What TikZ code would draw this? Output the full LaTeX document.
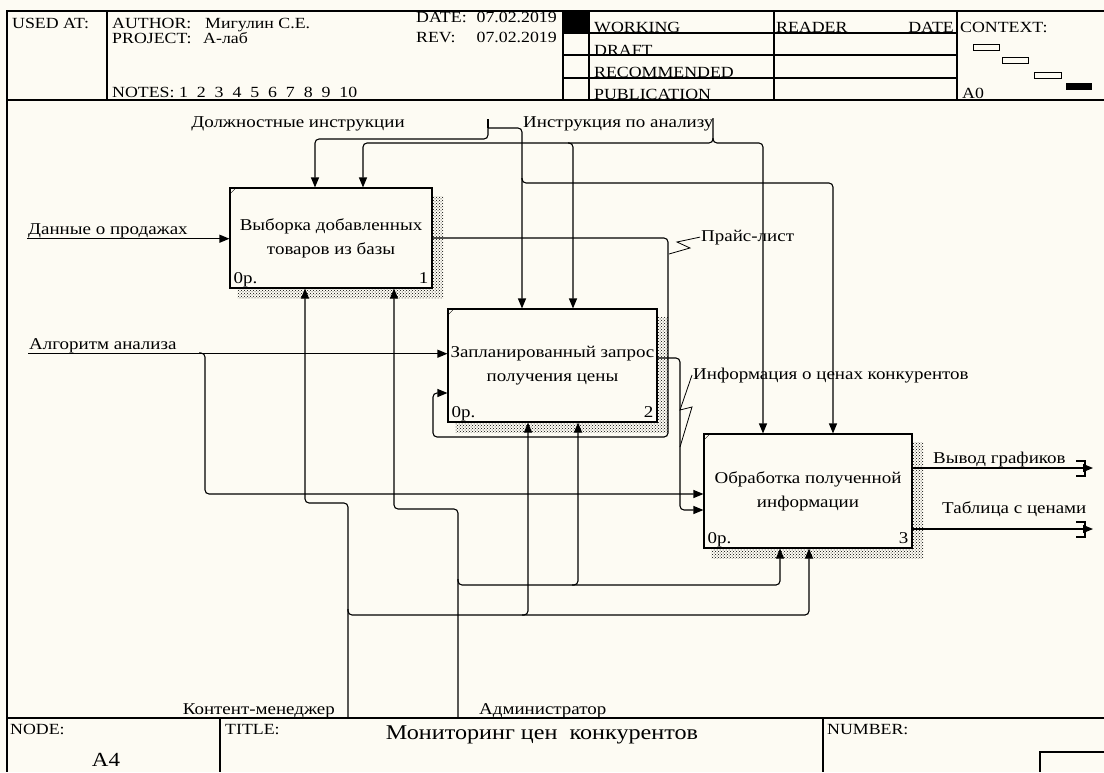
\documentclass[tikz,border=0pt]{standalone}
\usepackage{fontspec}
\setmainfont{Liberation Serif}[FakeStretch=1.15]
\usetikzlibrary{arrows.meta, calc, patterns}
\definecolor{paper}{RGB}{253,251,243}
\pgfdeclarelayer{bg}
\pgfsetlayers{bg,main}

\begin{document}
\begin{tikzpicture}[
    x=1pt, y=-1pt,
    every node/.style={font=\fontsize{16.5}{24}\selectfont, inner sep=1pt},
    func/.style={
        draw=black,
        line width=1.1pt,
        fill=paper,
        align=center,
        inner sep=0pt
    },
    hdr/.style={font=\fontsize{15.5}{18}\selectfont, anchor=base west, inner sep=0pt},
    frame/.style={line width=1.1pt},
    wire/.style={line width=1.1pt, rounded corners=4pt},
    arrow/.style={wire, -{Triangle[length=10pt, width=8pt]}},
    squiggle/.style={line width=0.8pt},
    shade/.style={pattern=crosshatch dots, pattern color=black}
]

\begin{pgfonlayer}{bg}
\fill[paper] (0,0) rectangle (1104,772);
\end{pgfonlayer}
\useasboundingbox (0,0) rectangle (1104,772);

\draw[frame] (1104,11) -- (7,11) -- (7,772);
\draw[frame] (7,100) -- (1104,100);
\draw[frame] (7,718) -- (1104,718);
\draw[frame] (107,11) -- (107,100);
\foreach \x in {563,589,774,957} \draw[frame] (\x,11) -- (\x,100);
\foreach \y in {33,55,78} \draw[frame] (563,\y) -- (957,\y);
\fill (563,11) rectangle (589,33);
\draw[thin] (973,44) rectangle (999,50);
\draw[thin] (1002,57) rectangle (1028,63);
\draw[thin] (1034,72) rectangle (1061,78);
\fill (1066,83) rectangle (1092,90);
\draw[frame] (220,718) -- (220,772);
\draw[frame] (823,718) -- (823,772);
\draw[frame] (1040,772) -- (1040,752) -- (1104,752);

\node[hdr] (usedat) at (12,28) {USED AT:};
\node[hdr] (author) at (112,28) {\makebox[93pt][l]{AUTHOR:}Мигулин С.Е.};
\node[hdr] (project) at (112,43) {\makebox[91pt][l]{PROJECT:}А-лаб};
\node[hdr] (notes) at (112,97) {NOTES:\ 1\ \ 2\ \ 3\ \ 4\ \ 5\ \ 6\ \ 7\ \ 8\ \ 9\ \ 10};
\node[hdr] (date) at (416,22) {DATE:};
\node[hdr, anchor=base east] (dateval) at (557,22) {07.02.2019};
\node[hdr] (rev) at (416,42) {REV:};
\node[hdr, anchor=base east] (revval) at (557,42) {07.02.2019};
\node[hdr] (working) at (594,32) {WORKING};
\node[hdr] (draft) at (594,55) {DRAFT};
\node[hdr] (recom) at (594,77) {RECOMMENDED};
\node[hdr] (publ) at (594,99) {PUBLICATION};
\node[hdr] (reader) at (776,32) {READER};
\node[hdr, anchor=base east] (rdate) at (954,32) {DATE};
\node[hdr] (context) at (960,32) {CONTEXT:};
\node[hdr] (azero) at (962,98) {A0};

\node[hdr] (nodelbl) at (10,734) {NODE:};
\node[font=\fontsize{20}{22}\selectfont] (nodeval) at (106,760) {A4};
\node[hdr] (titlelbl) at (225,734) {TITLE:};
\node[font=\fontsize{21}{24}\selectfont] (titleval) at (542,735) {Мониторинг цен\ \ конкурентов};
\node[hdr] (numberlbl) at (827,734) {NUMBER:};

\node[func, minimum width=202pt, minimum height=100pt] (b1) at (331,238) {Выборка добавленных\\товаров из базы};
\node[func, minimum width=209pt, minimum height=113pt] (b2) at (552.5,365.5) {Запланированный запрос\\получения цены};
\node[func, minimum width=208pt, minimum height=114pt] (b3) at (808,491) {Обработка полученной\\информации};

\begin{pgfonlayer}{bg}
\foreach \b in {b1,b2,b3}
    \fill[shade] ($(\b.north west)+(8,9)$) rectangle ($(\b.south east)+(11,10)$);
\end{pgfonlayer}

\foreach \b/\n in {b1/1,b2/2,b3/3} {
    \draw[thin] ($(\b.north west)+(0,7)$) -- ($(\b.north west)+(7,0)$);
    \node[anchor=base west] (\b-cost) at ($(\b.south west)+(3,-5)$) {0р.};
    \node[anchor=base east] (\b-num) at ($(\b.south east)+(-3,-5)$) {\n};
}

\node[anchor=base west] (sales) at (27,234) {Данные о продажах};
\node[anchor=base west] (algo) at (28,349) {Алгоритм анализа};
\node[anchor=base] (duty) at (298,127) {Должностные инструкции};
\node[anchor=base west] (anl) at (522,127) {Инструкция по анализу};
\node[anchor=base west] (price) at (700,241) {Прайс-лист};
\node[anchor=base west] (info) at (692,379) {Информация о ценах конкурентов};
\node[anchor=base west] (graphs) at (932,463) {Вывод графиков};
\node[anchor=base west] (table) at (941,513) {Таблица с ценами};
\node[anchor=base east] (cmgr) at (336,714) {Контент-менеджер};
\node[anchor=base west] (admin) at (478,714) {Администратор};

\coordinate (algosplit) at (199,353);
\coordinate (dutystart) at (488,128);
\coordinate (anlstart) at (713,118);
\coordinate (cmgrstart) at (348,717);
\coordinate (adminstart) at (458,717);

\draw[arrow] (sales.south west) -- (sales.south west -| b1.west);
\draw[arrow] (algo.south west) -- (algo.south west -| b2.west);
\draw[arrow] (algosplit) -- (205,353) -- (205,494) -- (b3.west |- 0,494);

\draw[arrow] (b1.east) -- (668,238) -- (668,437) -- (433,437) -- (433,393) -- (b2.west |- 0,393);
\draw[squiggle] (669,254) -- (690,248) -- (677,242) -- (price.west);

\draw[arrow] (b2.east |- 0,358) -- (680,358) -- (680,510) -- (b3.west |- 0,510);
\draw[squiggle] (680,447) -- (692,407) -- (680,410) -- (info.west);

\draw[wire, rounded corners=0pt] (488,119) -- (dutystart);
\draw[arrow] (dutystart) -- (488,139) -- (315,139) -- (315,0 |- b1.north);
\draw[arrow] (dutystart) -- (522,128) -- (522,0 |- b2.north);
\draw[arrow] (522,178) -- (522,183) -- (833,183) -- (833,0 |- b3.north);

\draw[arrow] (anlstart) -- (713,143) -- (363,143) -- (363,0 |- b1.north);
\draw[arrow] (713,138) -- (713,143) -- (763,143) -- (763,0 |- b3.north);
\draw[arrow] (568,143) -- (573,143) -- (573,0 |- b2.north);

\draw[arrow] (cmgrstart) -- (348,503) -- (305,503) -- (305,0 |- b1.south);
\draw[arrow] (348,609) -- (348,615) -- (809,615) -- (809,0 |- b3.south);
\draw[arrow] (522,615) -- (528,615) -- (528,0 |- b2.south);
\draw[arrow] (adminstart) -- (458,509) -- (394,509) -- (394,0 |- b1.south);
\draw[arrow] (458,579) -- (458,585) -- (780,585) -- (780,0 |- b3.south);
\draw[arrow] (572,585) -- (578,585) -- (578,0 |- b2.south);

\draw[arrow] (b3.east |- 0,468) -- (1093,468);
\draw[arrow] (b3.east |- 0,529) -- (1093,529);
\foreach \y in {468,529}
    \draw[wire, rounded corners=0pt] (1076,\y-7) -- (1085,\y-7) -- (1085,\y-3)
        (1085,\y+3) -- (1085,\y+8) -- (1076,\y+8);

\end{tikzpicture}
\end{document}
